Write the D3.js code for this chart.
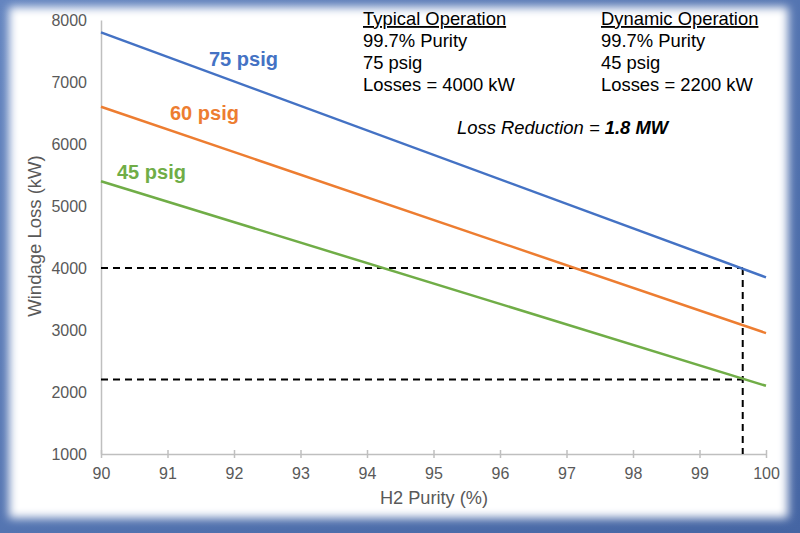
<!DOCTYPE html>
<html>
<head>
<meta charset="utf-8">
<script src="https://cdn.jsdelivr.net/npm/d3@7"></script>
<style>
  body { margin: 0; background: #fff; }
  svg { display: block; font-family: "Liberation Sans", Arial, sans-serif; }
</style>
</head>
<body>
<svg id="chart" width="800" height="533"></svg>
<script>
// purity axis (x) and the three pressure curves
const purity = [90, 100];
const loss75 = [7800, 3850];
const loss60 = [6600, 2950];
const loss45 = [5400, 2100];
const seriesNames = ["75 psig", "60 psig", "45 psig"];
const seriesColors = ["#4472C4", "#ED7D31", "#70AD47"];

const xTicks = [90, 91, 92, 93, 94, 95, 96, 97, 98, 99, 100];
const yTicks = [1000, 2000, 3000, 4000, 5000, 6000, 7000, 8000];

// operating point markers
const opPurity = 99.65;
const typicalLoss = 4000;
const dynamicLoss = 2200;

const typicalText = ["Typical Operation", "99.7% Purity", "75 psig", "Losses = 4000 kW"];
const dynamicText = ["Dynamic Operation", "99.7% Purity", "45 psig", "Losses = 2200 kW"];

const svg = d3.select("#chart");

// frame with soft inner glow
const defs = svg.append("defs");
defs.append("filter").attr("id", "glow")
  .attr("x", "-5%").attr("y", "-5%").attr("width", "110%").attr("height", "110%")
  .append("feGaussianBlur").attr("stdDeviation", 5);
const bg = defs.append("linearGradient").attr("id", "bg")
  .attr("x1", "0").attr("y1", "0").attr("x2", "1").attr("y2", "1");
bg.append("stop").attr("offset", "0").attr("stop-color", "#6384bf");
bg.append("stop").attr("offset", "1").attr("stop-color", "#4565a3");

svg.append("rect").attr("width", 800).attr("height", 533).attr("fill", "url(#bg)");
svg.append("rect")
  .attr("x", 9).attr("y", 7).attr("width", 779).attr("height", 511)
  .attr("fill", "#fff").attr("filter", "url(#glow)");

const x = d3.scaleLinear().domain([90, 100]).range([101, 766]);
const y = d3.scaleLinear().domain([1000, 8000]).range([454, 20]);

// axes
const axisColor = "#bfbfbf";
const labelColor = "#595959";

const xAxis = svg.append("g").attr("transform", `translate(0,${y(1000)})`)
  .call(d3.axisBottom(x).tickValues(xTicks).tickFormat(d3.format("d"))
    .tickSize(4).tickPadding(10).tickSizeOuter(0));
xAxis.attr("font-size", 16).attr("font-family", null);
xAxis.selectAll(".tick line").attr("y1", -4).attr("stroke", axisColor).attr("stroke-width", 1.5);
xAxis.select(".domain").attr("stroke", axisColor).attr("stroke-width", 1.5);
xAxis.selectAll("text").attr("fill", labelColor);

const yAxis = svg.append("g").attr("transform", `translate(${x(90)},0)`)
  .call(d3.axisLeft(y).tickValues(yTicks).tickFormat(d3.format("d"))
    .tickSize(0).tickPadding(14).tickSizeOuter(0));
yAxis.attr("font-size", 16).attr("font-family", null);
yAxis.select(".domain").attr("stroke", axisColor).attr("stroke-width", 1.5);
yAxis.selectAll("text").attr("fill", labelColor);

// axis titles
svg.append("text")
  .attr("x", 434).attr("y", 504)
  .attr("text-anchor", "middle")
  .attr("fill", labelColor).attr("font-size", 18.2)
  .text("H2 Purity (%)");
svg.append("text")
  .attr("transform", "translate(41,236) rotate(-90)")
  .attr("text-anchor", "middle")
  .attr("fill", labelColor).attr("font-size", 18.5)
  .text("Windage Loss (kW)");

// dashed reference lines
const dash = svg.append("g").attr("stroke", "#000").attr("stroke-width", 2)
  .attr("stroke-dasharray", "7,5").attr("fill", "none");
[typicalLoss, dynamicLoss].forEach(v => {
  dash.append("line")
    .attr("x1", x(90)).attr("x2", x(opPurity))
    .attr("y1", y(v)).attr("y2", y(v));
});
dash.append("line")
  .attr("x1", x(opPurity)).attr("x2", x(opPurity))
  .attr("y1", y(typicalLoss)).attr("y2", y(1000));

// the three lines
const line = d3.line().x(d => x(d[0])).y(d => y(d[1]));
[loss75, loss60, loss45].forEach((vals, i) => {
  svg.append("path")
    .datum(purity.map((p, j) => [p, vals[j]]))
    .attr("d", line)
    .attr("fill", "none")
    .attr("stroke", seriesColors[i])
    .attr("stroke-width", 2.5);
});

// series labels
const labelPos = [[209, 66], [170, 120], [117, 179]];
seriesNames.forEach((name, i) => {
  svg.append("text")
    .attr("x", labelPos[i][0]).attr("y", labelPos[i][1])
    .attr("fill", seriesColors[i])
    .attr("font-size", 20).attr("font-weight", "bold")
    .text(name);
});

// annotation blocks
function block(lines, x0) {
  lines.forEach((t, i) => {
    svg.append("text")
      .attr("x", x0).attr("y", 25 + i * 22)
      .attr("fill", "#000").attr("font-size", 18.4)
      .attr("text-decoration", i === 0 ? "underline" : null)
      .text(t);
  });
}
block(typicalText, 363);
block(dynamicText, 601);

const lr = svg.append("text")
  .attr("x", 457).attr("y", 134)
  .attr("fill", "#000").attr("font-size", 18.4).attr("font-style", "italic");
lr.append("tspan").text("Loss Reduction = ");
lr.append("tspan").attr("font-weight", "bold").text("1.8 MW");
</script>
</body>
</html>
